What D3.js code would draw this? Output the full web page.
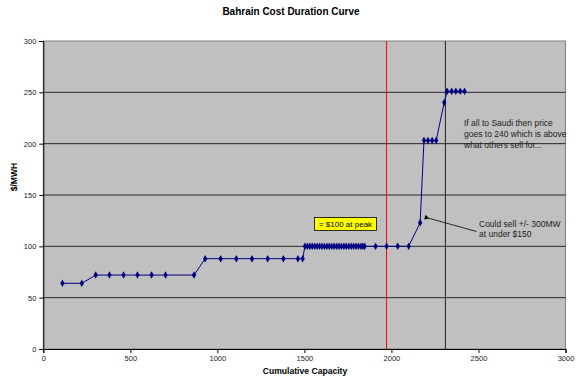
<!DOCTYPE html>
<html><head><meta charset="utf-8">
<script src="https://cdn.jsdelivr.net/npm/d3@7"></script>
<style>body{margin:0;background:#fff;font-family:"Liberation Sans",Arial,sans-serif}</style>
</head><body><svg id="c" width="576" height="387"></svg>
<script>
const capacity = [110,221,301,380,461,541,622,702,866,930,1019,1109,1199,1289,1379,1463,1490,
 1503,1517,1531,1545,1559,1573,1587,1601,1615,1629,1643,1657,1671,1685,1699,1713,1727,1741,1755,1769,1783,1797,1811,1825,1836,1846,
 1909,1972,2036,2099,2165,2187,2210,2234,2257,2303,2320,2346,2370,2395,2420];
const price = [64,64,72,72,72,72,72,72,72,88,88,88,88,88,88,88,88,
 100,100,100,100,100,100,100,100,100,100,100,100,100,100,100,100,100,100,100,100,100,100,100,100,100,100,
 100,100,100,100,123,203,203,203,203,240,251,251,251,251,251];
const xTicks = [0,500,1000,1500,2000,2500,3000];
const yTicks = [0,50,100,150,200,250,300];
const redLineX = 1972;
const blackLineX = 2310;

const svg = d3.select("#c");
const L=43.3, R=565.5, T=41, B=349;
const x = d3.scaleLinear().domain([0,3000]).range([L,R]);
const y = d3.scaleLinear().domain([0,300]).range([B,T]);

svg.append("text").attr("x",291).attr("y",15).attr("text-anchor","middle")
 .attr("font-size",10).attr("font-weight","bold").attr("fill","#000").text("Bahrain Cost Duration Curve");

svg.append("rect").attr("x",L).attr("y",T).attr("width",R-L).attr("height",B-T)
 .attr("fill","#C0C0C0").attr("stroke","#808080").attr("stroke-width",1);

svg.append("g").selectAll("line").data(yTicks.filter(d=>d>0&&d<300)).join("line")
 .attr("x1",L).attr("x2",R).attr("y1",d=>y(d)).attr("y2",d=>y(d)).attr("stroke","#000").attr("stroke-width",0.8);

svg.append("line").attr("x1",x(redLineX)).attr("x2",x(redLineX)).attr("y1",T).attr("y2",B).attr("stroke","#FF0000").attr("stroke-width",1);
svg.append("line").attr("x1",x(blackLineX)).attr("x2",x(blackLineX)).attr("y1",T).attr("y2",B).attr("stroke","#222").attr("stroke-width",1);

const xa = svg.append("g").attr("transform",`translate(0,${B})`)
 .call(d3.axisBottom(x).tickValues(xTicks).tickSize(4).tickPadding(3).tickFormat(d3.format("d")));
const ya = svg.append("g").attr("transform",`translate(${L},0)`)
 .call(d3.axisLeft(y).tickValues(yTicks).tickSize(4).tickPadding(3));
[xa,ya].forEach(a=>{a.selectAll("text").attr("font-size",7.5).attr("fill","#222").attr("font-family","Liberation Sans, Arial, sans-serif");
 a.select(".domain").attr("stroke","#000"); a.selectAll(".tick line").attr("stroke","#000");});

svg.append("text").attr("x",305).attr("y",374).attr("text-anchor","middle").attr("font-size",8.6)
 .attr("font-weight","bold").text("Cumulative Capacity");
svg.append("text").attr("transform","translate(17,177) rotate(-90)").attr("text-anchor","middle")
 .attr("font-size",8.6).attr("font-weight","bold").text("$/MWH");

const pts = capacity.map((c,i)=>[c,price[i]]);
svg.append("path").datum(pts).attr("fill","none").attr("stroke","#000080").attr("stroke-width",1)
 .attr("d",d3.line().x(d=>x(d[0])).y(d=>y(d[1])));
svg.append("g").selectAll("path").data(pts).join("path")
 .attr("transform",d=>`translate(${x(d[0])},${y(d[1])})`)
 .attr("d",d3.symbol().type(d3.symbolDiamond).size(16)).attr("fill","#000080");

svg.append("rect").attr("x",314.5).attr("y",217.5).attr("width",62).attr("height",13)
 .attr("fill","#FFFF00").attr("stroke","#000").attr("stroke-width",0.8);
svg.append("text").attr("x",345.5).attr("y",227.3).attr("text-anchor","middle").attr("font-size",8).text("= $100 at peak");

const t1 = svg.append("text").attr("font-size",8.5).attr("fill","#222");
["If all to Saudi then price","goes to 240 which is above","what others sell for..."].forEach((s,i)=>
 t1.append("tspan").attr("x",464).attr("y",126+i*10.8).text(s));

const t2 = svg.append("text").attr("font-size",8.5).attr("fill","#222");
["Could sell +/- 300MW","at under $150"].forEach((s,i)=>
 t2.append("tspan").attr("x",479).attr("y",227+i*10.3).text(s));

svg.append("defs").append("marker").attr("id","ah").attr("viewBox","0 0 10 10").attr("refX",1).attr("refY",5)
 .attr("markerWidth",7).attr("markerHeight",6).attr("orient","auto-start-reverse")
 .append("path").attr("d","M10,0 L0,5 L10,10 z").attr("fill","#000");
svg.append("line").attr("x1",476.5).attr("y1",231.5).attr("x2",429).attr("y2",218.3)
 .attr("stroke","#000").attr("stroke-width",0.8).attr("marker-end","url(#ah)");
</script></body></html>
